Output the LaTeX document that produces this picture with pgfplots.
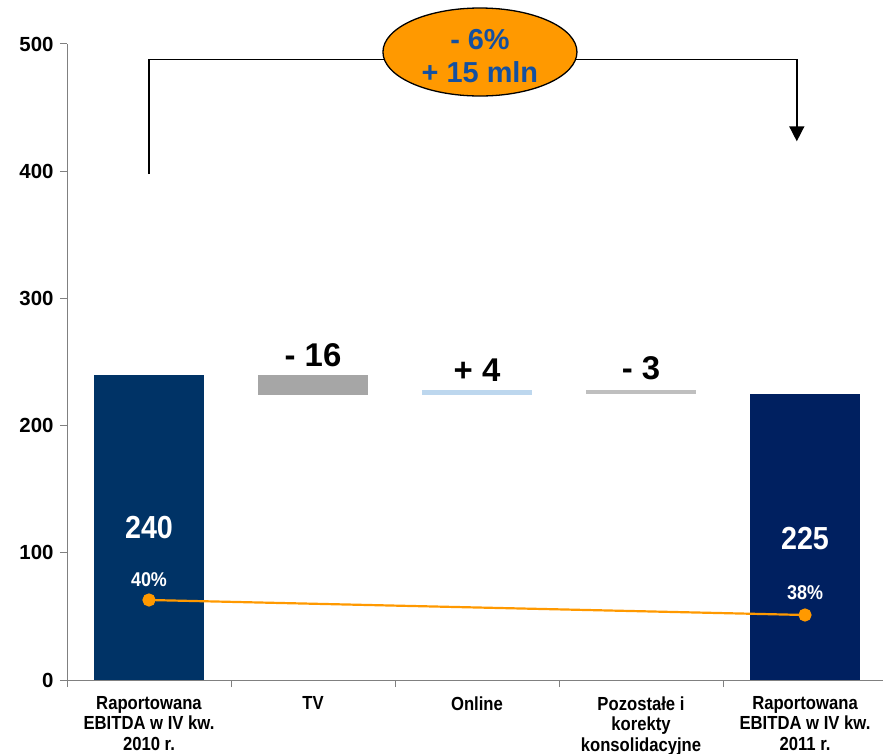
\documentclass[border=0pt]{standalone}
\usepackage{fontspec}
\setmainfont{Liberation Sans}
\newfontfamily\narrowfont[FakeStretch=0.88]{Liberation Sans}
\newfontfamily\numfont[FakeStretch=0.9]{Liberation Sans}
\usepackage{pgfplots}
\pgfplotsset{compat=1.18}
\usetikzlibrary{arrows.meta,shapes.geometric}

\definecolor{barA}{RGB}{0,51,102}
\definecolor{barE}{RGB}{0,32,96}
\definecolor{barTV}{RGB}{166,166,166}
\definecolor{barOn}{RGB}{189,215,238}
\definecolor{barPo}{RGB}{191,191,191}
\definecolor{lineor}{RGB}{255,153,0}
\definecolor{txtblue}{RGB}{20,80,160}
\definecolor{axgray}{RGB}{128,128,128}

\begin{document}
\begin{tikzpicture}
\begin{axis}[name=ax, scale only axis, width=820bp, height=636bp,
  xmin=-0.5, xmax=4.5, ymin=0, ymax=500,
  ybar stacked, bar width=110bp,
  axis x line=bottom, axis y line=left,
  axis line style={draw=axgray, line width=1bp, -},
  tick align=outside,
  tick style={draw=axgray, line width=1bp},
  major tick length=7bp,
  xtick={-0.5,0.5,1.5,2.5,3.5,4.5},
  xticklabels={},
  extra x ticks={0,1,2,3,4},
  extra x tick labels={{Raportowana\\EBITDA w IV kw.\\2010 r.},{TV},{Online},{Pozostałe i\\korekty\\konsolidacyjne},{Raportowana\\EBITDA w IV kw.\\2011 r.}},
  extra x tick style={major tick length=0pt, tick style={draw=none},
     xticklabel style={font=\narrowfont\bfseries\fontsize{19}{20.5}\selectfont, align=center, anchor=north, yshift=-13bp}},
  ytick={0,100,...,500},
  yticklabel style={font=\bfseries\fontsize{20.5}{20.5}\selectfont, xshift=-3bp},
  /pgf/number format/assume math mode=true,
  clip=false,
]
\addplot[fill=none, draw=none] coordinates {(0,0) (1,224) (2,224) (3,225) (4,0)};
\addplot[fill=barA, draw=none] coordinates {(0,240) (1,0) (2,0) (3,0) (4,0)};
\addplot[fill=barTV, draw=none] coordinates {(0,0) (1,16) (2,0) (3,0) (4,0)};
\addplot[fill=barOn, draw=none] coordinates {(0,0) (1,0) (2,4) (3,0) (4,0)};
\addplot[fill=barPo, draw=none] coordinates {(0,0) (1,0) (2,0) (3,3) (4,0)};
\addplot[fill=barE, draw=none] coordinates {(0,0) (1,0) (2,0) (3,0) (4,225)};
\end{axis}
\begin{axis}[scale only axis, width=820bp, height=636bp,
  xmin=-0.5, xmax=4.5, ymin=0, ymax=500, hide axis, clip=false]
\addplot[color=lineor, line width=2.2bp, mark=*, mark size=5.5bp, mark options={fill=lineor, draw=lineor}]
  coordinates {(0,62.9) (4,51.1)};
\node[text=white, font=\numfont\bfseries\fontsize{32}{32}\selectfont] at (axis cs:0,119.5) {240};
\node[text=white, font=\numfont\bfseries\fontsize{32}{32}\selectfont] at (axis cs:4,111.6) {225};
\node[text=white, font=\numfont\bfseries\fontsize{20}{20}\selectfont] at (axis cs:0,78.6) {40\%};
\node[text=white, font=\numfont\bfseries\fontsize{20}{20}\selectfont] at (axis cs:4,68.4) {38\%};
\node[text=black, font=\bfseries\fontsize{33}{33}\selectfont] at (axis cs:1,255.5) {- 16};
\node[text=black, font=\bfseries\fontsize{33}{33}\selectfont] at (axis cs:2,243.7) {+ 4};
\node[text=black, font=\bfseries\fontsize{33}{33}\selectfont] at (axis cs:3,245) {- 3};
\draw[black, line width=1.5bp, -{Triangle[width=15bp,length=15bp]}] (axis cs:0,397.6) -- (axis cs:0,488) -- (axis cs:3.95,488)
   -- (axis cs:3.95,423.5);
\node[ellipse, draw=black, line width=1.3bp, fill=lineor, minimum width=194bp, minimum height=88bp,
  inner sep=0pt] at (axis cs:2.018,493.7) {};
\node[inner sep=0pt, text=txtblue, font=\bfseries\fontsize{29}{33}\selectfont, align=center]
  at (axis cs:2.018,490.3) {- 6\%\\+ 15 mln};
\end{axis}
\pgfresetboundingbox
\path[use as bounding box] ([xshift=-67bp,yshift=-74bp]ax.south west) rectangle ([xshift=816bp,yshift=680bp]ax.south west);
\end{tikzpicture}
\end{document}
